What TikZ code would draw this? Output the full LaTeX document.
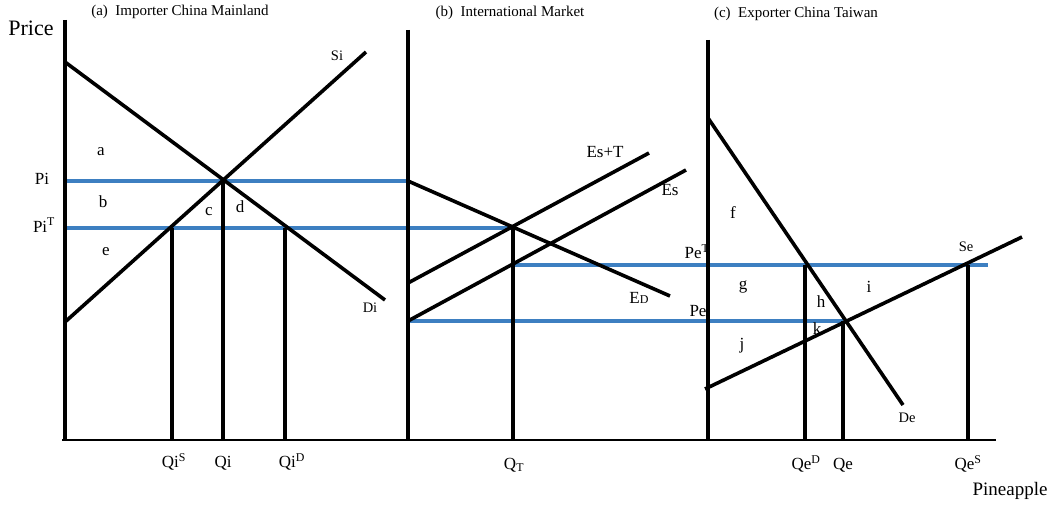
\documentclass[tikz,border=0pt]{standalone}
\usepackage{fontspec}
\setmainfont{Liberation Serif}
\usepackage{tikz}
\usetikzlibrary{positioning}
\definecolor{priceblue}{HTML}{3D7FC1}

\tikzset{
  curve/.style={line width=3.6pt},
  priceline/.style={draw=priceblue, line width=3.6pt},
  lbl/.style={font=\fontsize{17}{17}\selectfont, inner sep=0pt},
  small lbl/.style={font=\fontsize{14.5}{14.5}\selectfont, inner sep=0pt},
  title/.style={font=\fontsize{15}{15}\selectfont, inner sep=0pt}
}

\begin{document}
\begin{tikzpicture}[x=1pt, y=-1pt]
\useasboundingbox (0,0) rectangle (1060,505);

% axes
\coordinate (ya) at (65,20);   \coordinate (oa) at (65,440);
\coordinate (yb) at (408,30);  \coordinate (ob) at (408,440);
\coordinate (yc) at (708,40);  \coordinate (oc) at (708,440);
\coordinate (x0) at (62,440);  \coordinate (x1) at (996,440);

% (a) importer
\coordinate (diTop) at (65,62);   \coordinate (diEnd) at (385,300);
\coordinate (siLow) at (65,322);  \coordinate (siEnd) at (366,52);
\coordinate (eqa) at (223,181);
\coordinate (qiS) at (172,228);   \coordinate (qiD) at (285,228);

% (b) international market
\coordinate (edTop) at (408,181); \coordinate (edEnd) at (670,296);
\coordinate (estLow) at (408,283); \coordinate (estEnd) at (649,153);
\coordinate (esLow) at (408,321); \coordinate (esEnd) at (686,170);
\coordinate (eqb) at (513,228);   \coordinate (qtLow) at (513,265);

% (c) exporter
\coordinate (deTop) at (708,118); \coordinate (deEnd) at (903,405);
\coordinate (seLow) at (705,389); \coordinate (seEnd) at (1022,237);
\coordinate (eqc) at (843,321);
\coordinate (qeD) at (805,265);   \coordinate (qeS) at (968,265);
\coordinate (peTEnd) at (988,265);

% price lines
\draw[priceline] (65,181) -- (edTop);
\draw[priceline] (65,228) -- (eqb);
\draw[priceline] (qtLow) -- (peTEnd);
\draw[priceline] (esLow) -- (eqc);

% axes
\draw[curve] (ya) -- (oa);
\draw[curve] (yb) -- (ob);
\draw[curve] (yc) -- (oc);
\draw[line width=2.8pt] (x0) -- (x1);

% curves
\draw[curve] (diTop) -- (diEnd);
\draw[curve] (siLow) -- (siEnd);
\draw[curve] (edTop) -- (edEnd);
\draw[curve] (estLow) -- (estEnd);
\draw[curve] (esLow) -- (esEnd);
\draw[curve] (deTop) -- (deEnd);
\draw[curve] (seLow) -- (seEnd);

% quantity drops
\draw[curve] (qiS) -- (qiS |- x0);
\draw[curve] (eqa) -- (eqa |- x0);
\draw[curve] (qiD) -- (qiD |- x0);
\draw[curve] (eqb) -- (eqb |- x0);
\draw[curve] (qeD) -- (qeD |- x0);
\draw[curve] (eqc) -- (eqc |- x0);
\draw[curve] (qeS) -- (qeS |- x0);

% titles
\node[title] (tA) at (180,12) {(a)\ \ Importer China Mainland};
\node[title] (tB) at (510,13) {(b)\ \ International Market};
\node[title] (tC) at (796,14) {(c)\ \ Exporter China Taiwan};
\node[font=\fontsize{22}{22}\selectfont, inner sep=0pt] (price) at (31,28) {Price};
\node[font=\fontsize{19}{19}\selectfont, inner sep=0pt] (pine) at (1010,491) {Pineapple};

% labels (a)
\node[small lbl] (lSi) at (337,56) {Si};
\node[small lbl] (lDi) at (370,308) {Di};
\node[lbl] (la) at (101,152) {a};
\node[lbl] (lb) at (103,202) {b};
\node[lbl] (lc) at (209,212) {c};
\node[lbl] (ld) at (240,207) {d};
\node[lbl] (le) at (106,252) {e};
\node[lbl] (lPi) at (42,179) {Pi};
\node[lbl] (lPiT) at (44,225) {Pi\textsuperscript{T}};
\node[lbl] (lQiS) at (174,462) {Qi\textsuperscript{S}};
\node[lbl] (lQi) at (223,463) {Qi};
\node[lbl] (lQiD) at (292,462) {Qi\textsuperscript{D}};

% labels (b)
\node[lbl] (lEsT) at (605,152) {Es+T};
\node[lbl] (lEs) at (670,190) {Es};
\node[lbl] (lED) at (639,298) {E{\fontsize{12}{12}\selectfont D}};
\node[lbl] (lQT) at (514,465) {Q\textsubscript{T}};

% labels (c)
\node[lbl] (lPeT) at (697,252) {Pe\textsuperscript{T}};
\node[lbl] (lPe) at (698,311) {Pe};
\node[lbl] (lf) at (733,213) {f};
\node[lbl] (lg) at (743,287) {g};
\node[lbl] (lh) at (821,302) {h};
\node[lbl] (li) at (869,287) {i};
\node[lbl] (lk) at (817,329) {k};
\node[lbl] (lj) at (742,346) {j};
\node[small lbl] (lDe) at (907,418) {De};
\node[small lbl] (lSe) at (966,247) {Se};
\node[lbl] (lQeD) at (806,464) {Qe\textsuperscript{D}};
\node[lbl] (lQe) at (843,465) {Qe};
\node[lbl] (lQeS) at (968,464) {Qe\textsuperscript{S}};
\end{tikzpicture}
\end{document}
